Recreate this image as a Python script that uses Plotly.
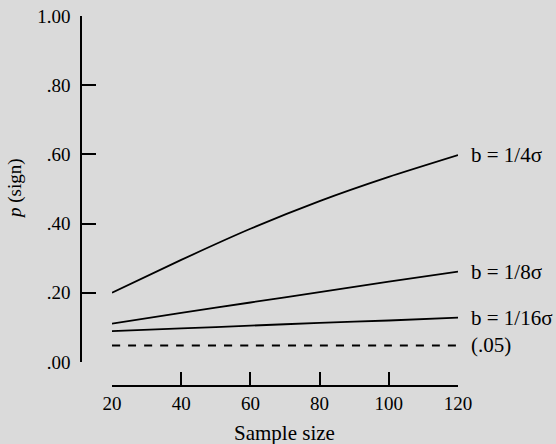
import plotly.graph_objects as go

sample_size = [20, 40, 60, 80, 100, 120]
p_quarter = [0.200, 0.295, 0.385, 0.465, 0.535, 0.598]
p_eighth = [0.111, 0.142, 0.172, 0.202, 0.232, 0.261]
p_sixteenth = [0.089, 0.097, 0.105, 0.113, 0.120, 0.128]
alpha_level = [0.048, 0.048, 0.048, 0.048, 0.048, 0.048]

series_names = ["b = 1/4σ", "b = 1/8σ", "b = 1/16σ", "(.05)"]
y_tickvals = [0, 0.2, 0.4, 0.6, 0.8, 1.0]
y_ticktext = [".00", ".20", ".40", ".60", ".80", "1.00"]
x_tickvals = [20, 40, 60, 80, 100, 120]

W, H = 556, 444
FONT = "Liberation Serif, Times New Roman, serif"
BG = "#dadada"

fig = go.Figure()
series = [p_quarter, p_eighth, p_sixteenth, alpha_level]
for name, ys in zip(series_names, series):
    dash = "8px,8px" if name == "(.05)" else "solid"
    width = 2 if name == "(.05)" else 1.8
    fig.add_trace(go.Scatter(
        x=sample_size, y=ys, mode="lines", name=name,
        line=dict(color="black", width=width, dash=dash, shape="spline", smoothing=0.6),
        showlegend=False, hoverinfo="skip"))
    fig.add_annotation(x=sample_size[-1], y=ys[-1], xref="x", yref="y",
                       text=name, showarrow=False, xanchor="left", yanchor="middle",
                       xshift=11, font=dict(family=FONT, size=21, color="black"))

# pixel geometry
x_left_px, x_right_px = 112, 458
y_top_px, y_bot_px = 16, 362
yaxis_x_px = 81
xaxis_y_px = 386

fig.update_layout(
    template="none",
    width=W, height=H,
    margin=dict(l=0, r=0, t=0, b=0, autoexpand=False),
    paper_bgcolor=BG, plot_bgcolor=BG,
    font=dict(family=FONT, size=18, color="black"),
    xaxis=dict(
        domain=[x_left_px / W, x_right_px / W],
        range=[20, 120], tickvals=x_tickvals,
        anchor="free", position=(H - xaxis_y_px) / H, automargin=False,
        showline=True, linecolor="black", linewidth=1.6,
        ticks="inside", ticklen=13, tickwidth=1.5, tickcolor="black",
        showgrid=False, zeroline=False, ticklabelstandoff=0,
        tickfont=dict(family=FONT, size=19),
    ),
    yaxis=dict(
        domain=[(H - y_bot_px) / H, (H - y_top_px) / H],
        range=[0, 1], tickvals=y_tickvals, ticktext=y_ticktext,
        anchor="free", position=yaxis_x_px / W, automargin=False,
        showline=True, linecolor="black", linewidth=1.6,
        ticks="inside", ticklen=14, tickwidth=1.5, tickcolor="black",
        showgrid=False, zeroline=False, ticklabelstandoff=6,
        tickfont=dict(family=FONT, size=19),
    ),
)

fig.add_annotation(x=15 / W, y=(H - 189) / H, xref="paper", yref="paper",
                   text="<i>p</i> (sign)", textangle=-90, showarrow=False,
                   xanchor="center", yanchor="middle",
                   font=dict(family=FONT, size=19, color="black"))
fig.add_annotation(x=284 / W, y=(H - 433) / H, xref="paper", yref="paper",
                   text="Sample size", showarrow=False,
                   xanchor="center", yanchor="middle",
                   font=dict(family=FONT, size=21, color="black"))

fig.write_html(
    "out.html",
    config={"displayModeBar": False},
    post_script="document.body.style.margin='0';document.body.style.background='#dadada';"
                "document.body.style.overflow='hidden';",
)
